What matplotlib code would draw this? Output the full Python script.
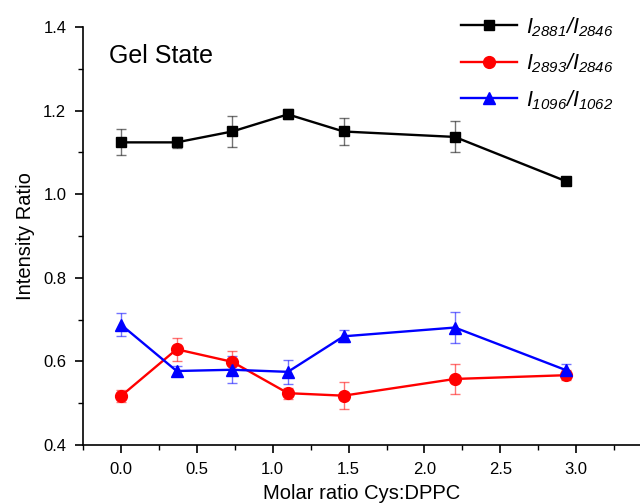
import matplotlib
matplotlib.use("Agg")
import matplotlib.pyplot as plt
from matplotlib.ticker import MultipleLocator, FormatStrFormatter

plt.rcParams['font.family'] = ['Liberation Sans', 'DejaVu Sans']
plt.rcParams['mathtext.fontset'] = 'custom'
plt.rcParams['mathtext.rm'] = 'Liberation Sans:italic'
plt.rcParams['mathtext.it'] = 'Liberation Sans:italic'

x = [0.0, 0.367, 0.733, 1.1, 1.467, 2.2, 2.933]
black_y = [1.124, 1.124, 1.150, 1.191, 1.150, 1.137, 1.031]
black_err = [0.031, 0.014, 0.037, 0.012, 0.033, 0.037, 0.010]
red_y = [0.517, 0.629, 0.599, 0.524, 0.518, 0.558, 0.567]
red_err = [0.014, 0.028, 0.027, 0.013, 0.033, 0.036, 0.012]
blue_y = [0.688, 0.577, 0.580, 0.575, 0.660, 0.681, 0.579]
blue_err = [0.027, 0.013, 0.032, 0.028, 0.014, 0.036, 0.014]
labels = [r'$I_{2881}/I_{2846}$', r'$I_{2893}/I_{2846}$', r'$I_{1096}/I_{1062}$']

fig = plt.figure(figsize=(6.4, 5.04), dpi=100)
ax = fig.add_axes([83/640, 59/504, 1 - 83/640, (445-27)/504])

series = [(black_y, black_err, 'black', 's', 7.5, labels[0]),
          (red_y, red_err, 'red', 'o', 8.5, labels[1]),
          (blue_y, blue_err, 'blue', '^', 8.5, labels[2])]
handles = []
for y, e, c, m, ms, lab in series:
    ax.errorbar(x, y, yerr=e, fmt='none', ecolor=c, alpha=0.55, elinewidth=1.0,
                capsize=3.5, capthick=1.0, zorder=2)
    h, = ax.plot(x, y, color=c, marker=m, markersize=ms, linewidth=1.7, label=lab, zorder=3)
    handles.append(h)

ax.set_xlim(-0.25, 3.42)
ax.set_ylim(0.4, 1.4)
ax.xaxis.set_major_locator(MultipleLocator(0.5))
ax.xaxis.set_minor_locator(MultipleLocator(0.25))
ax.yaxis.set_major_locator(MultipleLocator(0.2))
ax.yaxis.set_minor_locator(MultipleLocator(0.1))
ax.xaxis.set_major_formatter(FormatStrFormatter('%.1f'))
ax.yaxis.set_major_formatter(FormatStrFormatter('%.1f'))
ax.spines['top'].set_visible(False)
ax.spines['right'].set_visible(False)
for s in ['left', 'bottom']:
    ax.spines[s].set_linewidth(1.2)
ax.tick_params(which='major', direction='out', length=6, width=1.2, labelsize=12, pad=6)
ax.tick_params(which='minor', direction='out', length=3.5, width=1.0)

ax.set_xlabel('Molar ratio Cys:DPPC', fontsize=14.5, labelpad=5)
ax.set_ylabel('Intensity Ratio', fontsize=14.5, labelpad=6)

ax.text(0.047, 0.93, 'Gel State', transform=ax.transAxes, fontsize=18, va='center', ha='left')

leg = ax.legend(handles=handles, loc='upper left', bbox_to_anchor=(461/640, 1 - 15/504),
                bbox_transform=fig.transFigure,
                frameon=False, fontsize=15.5, handlelength=2.6, labelspacing=0.6,
                handletextpad=0.4, borderaxespad=0.0, borderpad=0.0)

fig.savefig('out.png', dpi=100)
